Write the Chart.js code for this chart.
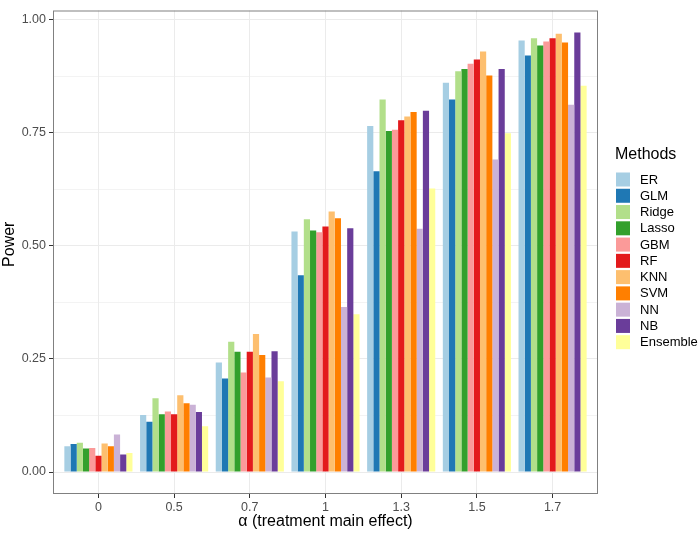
<!DOCTYPE html>
<html>
<head>
<meta charset="utf-8">
<script src="https://cdn.jsdelivr.net/npm/chart.js@4.4.0/dist/chart.umd.min.js"></script>
<style>
  html, body { margin: 0; padding: 0; background: #fff; }
  #wrap { width: 700px; height: 533px; }
</style>
</head>
<body>
<div id="wrap"><canvas id="c" width="700" height="533"></canvas></div>
<script>
// alpha levels (x categories)
const alphas = ['0', '0.5', '0.7', '1', '1.3', '1.5', '1.7'];
const methods = ['ER', 'GLM', 'Ridge', 'Lasso', 'GBM', 'RF', 'KNN', 'SVM', 'NN', 'NB', 'Ensemble'];
const colors = ['#a6cee3', '#1f78b4', '#b2df8a', '#33a02c', '#fb9a99', '#e31a1c',
                '#fdbf6f', '#ff7f00', '#cab2d6', '#6a3d9a', '#ffff99'];

// power per method, one value per alpha
const ER       = [0.057, 0.126, 0.242, 0.532, 0.765, 0.861, 0.954];
const GLM      = [0.062, 0.111, 0.207, 0.435, 0.665, 0.824, 0.921];
const Ridge    = [0.065, 0.163, 0.288, 0.559, 0.824, 0.886, 0.959];
const Lasso    = [0.052, 0.128, 0.266, 0.534, 0.754, 0.891, 0.943];
const GBM      = [0.053, 0.134, 0.220, 0.530, 0.757, 0.903, 0.952];
const RF       = [0.036, 0.128, 0.266, 0.543, 0.778, 0.912, 0.959];
const KNN      = [0.063, 0.170, 0.305, 0.576, 0.786, 0.930, 0.969];
const SVM      = [0.057, 0.152, 0.259, 0.561, 0.796, 0.877, 0.950];
const NN       = [0.083, 0.149, 0.209, 0.365, 0.538, 0.691, 0.812];
const NB       = [0.039, 0.133, 0.267, 0.539, 0.799, 0.891, 0.972];
const Ensemble = [0.042, 0.101, 0.201, 0.349, 0.627, 0.749, 0.854];

const series = [ER, GLM, Ridge, Lasso, GBM, RF, KNN, SVM, NN, NB, Ensemble];
const yTicks = [0, 0.125, 0.25, 0.375, 0.5, 0.625, 0.75, 0.875, 1];

const FONT = '"Liberation Sans", Arial, Helvetica, sans-serif';
const isMajor = v => Math.abs(v * 4 - Math.round(v * 4)) < 1e-6;

// panel border, axis titles and legend, drawn like ggplot
const decor = {
  id: 'decor',
  afterDraw(chart) {
    const { ctx, chartArea: a } = chart;
    ctx.save();
    ctx.strokeStyle = '#808080';
    ctx.lineWidth = 1;
    ctx.strokeRect(a.left + 0.5, a.top + 0.5, a.right - a.left - 1, a.bottom - a.top - 1);

    ctx.fillStyle = '#000';
    ctx.font = '16px ' + FONT;
    ctx.textAlign = 'center';
    ctx.textBaseline = 'middle';
    ctx.fillText('\u03b1 (treatment main effect)', (a.left + a.right) / 2, 522);

    ctx.save();
    ctx.translate(10, (a.top + a.bottom) / 2 - 8);
    ctx.rotate(-Math.PI / 2);
    ctx.fillText('Power', 0, 0);
    ctx.restore();

    // legend
    ctx.textAlign = 'left';
    ctx.font = '16px ' + FONT;
    ctx.fillText('Methods', 615, 155);
    ctx.font = '13px ' + FONT;
    methods.forEach((m, i) => {
      const top = 172.5 + i * 16.27;
      ctx.fillStyle = colors[i];
      ctx.fillRect(616, top, 14, 14);
      ctx.fillStyle = '#000';
      ctx.fillText(m, 640, top + 7.5);
    });
    ctx.restore();
  }
};

new Chart(document.getElementById('c'), {
  type: 'bar',
  data: {
    datasets: series.map((vals, i) => ({
      label: methods[i],
      data: vals.map((v, j) => ({ x: j, y: v })),
      backgroundColor: colors[i],
      borderWidth: 0,
      barPercentage: 1,
      categoryPercentage: 0.9,
    })),
  },
  options: {
    responsive: false,
    animation: false,
    layout: { padding: { left: 0, right: 102, top: 3, bottom: 0 } },
    plugins: { legend: { display: false }, tooltip: { enabled: false } },
    scales: {
      x: {
        type: 'linear',
        offset: false,
        min: -0.6,
        max: 6.6,
        afterBuildTicks: s => { s.ticks = alphas.map((_, i) => ({ value: i })); },
        afterFit: s => { s.height = 39; },
        ticks: {
          callback: v => alphas[v],
          color: '#4d4d4d',
          font: { family: FONT, size: 12.5 },
          padding: 2,
          maxRotation: 0,
          autoSkip: false,
        },
        grid: { offset: false, color: '#ebebeb', lineWidth: 1, tickColor: '#333', tickLength: 4 },
        border: { display: false },
      },
      y: {
        min: -0.0486,
        max: 1.0206,
        afterBuildTicks: s => { s.ticks = yTicks.map(v => ({ value: v })); },
        afterFit: s => { s.width = 53; },
        ticks: {
          callback: v => (isMajor(v) ? v.toFixed(2) : ''),
          color: '#4d4d4d',
          font: { family: FONT, size: 12.5 },
          padding: 3,
          autoSkip: false,
        },
        grid: {
          color: '#ebebeb',
          lineWidth: c => (isMajor(c.tick.value) ? 1 : 0.6),
          tickColor: c => (isMajor(c.tick.value) ? '#333' : 'rgba(0,0,0,0)'),
          tickLength: 4,
        },
        border: { display: false },
      },
    },
  },
  plugins: [decor],
});
</script>
</body>
</html>
